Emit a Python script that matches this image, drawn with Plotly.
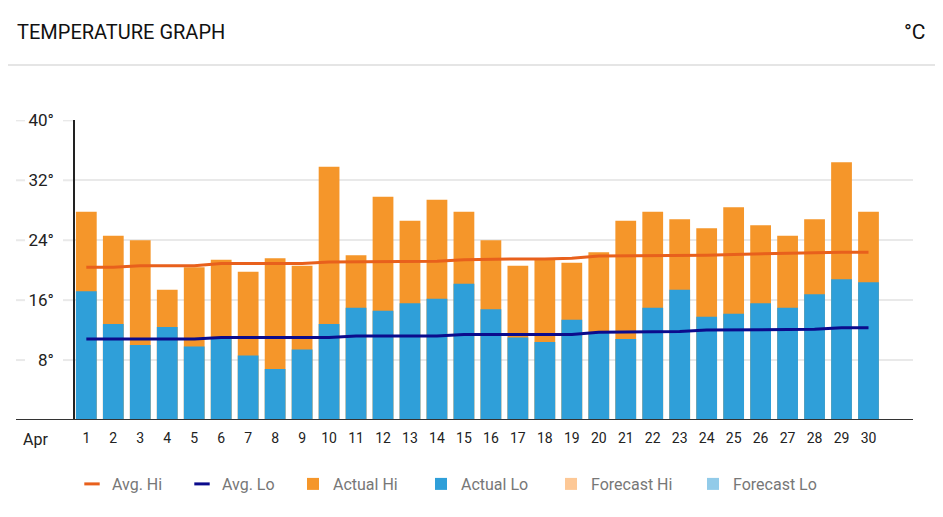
import plotly.graph_objects as go

# ---- data ----
days = list(range(1, 31))
day_labels = [str(d) for d in days]
month_label = "Apr"

actual_hi = [27.8, 24.6, 24.0, 17.4, 20.4, 21.4, 19.8, 21.6, 20.6, 33.8,
             22.0, 29.8, 26.6, 29.4, 27.8, 24.0, 20.6, 21.4, 21.0, 22.4,
             26.6, 27.8, 26.8, 25.6, 28.4, 26.0, 24.6, 26.8, 34.4, 27.8]
actual_lo = [17.2, 12.8, 10.0, 12.4, 9.8, 10.9, 8.6, 6.8, 9.4, 12.8,
             15.0, 14.6, 15.6, 16.2, 18.2, 14.8, 11.0, 10.4, 13.4, 11.7,
             10.8, 15.0, 17.4, 13.8, 14.2, 15.6, 15.0, 16.8, 18.8, 18.4]
avg_hi = [20.4, 20.4, 20.6, 20.6, 20.6, 20.9, 20.9, 20.9, 20.9, 21.1,
          21.1, 21.1, 21.2, 21.2, 21.4, 21.5, 21.5, 21.5, 21.6, 21.9,
          21.9, 21.9, 21.9, 22.0, 22.1, 22.2, 22.2, 22.3, 22.4, 22.4]
avg_lo = [10.8, 10.8, 10.8, 10.8, 10.8, 11.0, 11.0, 11.0, 11.0, 11.0,
          11.2, 11.2, 11.2, 11.2, 11.4, 11.4, 11.4, 11.4, 11.4, 11.7,
          11.7, 11.8, 11.8, 12.0, 12.0, 12.0, 12.1, 12.1, 12.3, 12.3]
forecast_hi = [None] * 30
forecast_lo = [None] * 30
y_ticks = [8, 16, 24, 32, 40]
y_tick_text = [f"{t}°" for t in y_ticks]

# ---- style ----
OFF = 8                      # page body margin of the html page
W, H = 943 - OFF, 517 - OFF
ML, MR, MT, MB = 67, 30, 112, 97
PW = W - ML - MR
PH = H - MT - MB
FONT = "Roboto, Inter, sans-serif"
C_HI = "#f5962a"
C_LO = "#2f9fd9"
C_AVG_HI = "#e8601c"
C_AVG_LO = "#0b0b8c"
C_FC_HI = "#fdc896"
C_FC_LO = "#92cbe9"
GRID = "#e9e9e9"


def px_x(px):
    """page x pixel -> paper x"""
    return (px - OFF - ML) / PW


def px_y(py):
    """page y pixel -> paper y"""
    return (H - MB - (py - OFF)) / PH


fig = go.Figure()

# bars (overlay: low bar drawn over the high bar)
fig.add_trace(go.Bar(x=days, y=actual_hi, name="Actual Hi", marker_color=C_HI,
                     marker_line_width=0, legend="legend3", hoverinfo="skip"))
fig.add_trace(go.Bar(x=days, y=actual_lo, name="Actual Lo", marker_color=C_LO,
                     marker_line_width=0, legend="legend4", hoverinfo="skip"))
fig.add_trace(go.Bar(x=days, y=forecast_hi, name="Forecast Hi", marker_color=C_FC_HI,
                     marker_line_width=0, legend="legend5"))
fig.add_trace(go.Bar(x=days, y=forecast_lo, name="Forecast Lo", marker_color=C_FC_LO,
                     marker_line_width=0, legend="legend6"))

# average lines
fig.add_trace(go.Scatter(x=days, y=avg_hi, mode="lines", name="Avg. Hi",
                         line=dict(color=C_AVG_HI, width=3), showlegend=False,
                         legendgroup="ahi"))
fig.add_trace(go.Scatter(x=days, y=avg_lo, mode="lines", name="Avg. Lo",
                         line=dict(color=C_AVG_LO, width=3), showlegend=False,
                         legendgroup="alo"))
# short-dash legend entries for the lines
fig.add_trace(go.Scatter(x=[None], y=[None], mode="markers", name="Avg. Hi",
                         legendgroup="ahi", legend="legend",
                         marker=dict(symbol="line-ew", size=11,
                                     line=dict(color=C_AVG_HI, width=3))))
fig.add_trace(go.Scatter(x=[None], y=[None], mode="markers", name="Avg. Lo",
                         legendgroup="alo", legend="legend2",
                         marker=dict(symbol="line-ew", size=11,
                                     line=dict(color=C_AVG_LO, width=3))))

shapes = []
# header separator
shapes.append(dict(type="line", xref="paper", yref="paper",
                   x0=px_x(0), x1=px_x(943), y0=px_y(65), y1=px_y(65),
                   line=dict(color="#dcdcdc", width=1.5)))
# gridline stubs to the left of the axis
for t in y_ticks:
    for a, b in ((16, 25), (63, 75)):
        shapes.append(dict(type="line", xref="paper", yref="y",
                           x0=px_x(a), x1=px_x(b), y0=t, y1=t,
                           line=dict(color=GRID, width=2), layer="below"))
# baseline
shapes.append(dict(type="line", xref="paper", yref="y",
                   x0=px_x(16), x1=1, y0=0, y1=0,
                   line=dict(color="#333333", width=2)))

annotations = [
    dict(text="°C", xref="paper", yref="paper", x=px_x(928), y=px_y(32),
         xanchor="right", yanchor="middle", showarrow=False,
         font=dict(family=FONT, size=21, color="#111111")),
    dict(text=month_label, xref="paper", yref="paper", x=px_x(35), y=px_y(439),
         xanchor="center", yanchor="middle", showarrow=False,
         font=dict(family=FONT, size=16, color="#222222")),
]

# one small legend per entry so each sits where the reference puts it
text_starts = [112, 222, 333, 461, 591, 733]
legend_names = ["legend", "legend2", "legend3", "legend4", "legend5", "legend6"]
legends = {}
for name, ts in zip(legend_names, text_starts):
    legends[name] = dict(orientation="h", x=px_x(ts - 40), y=px_y(484),
                         xanchor="left", yanchor="middle", bgcolor="rgba(0,0,0,0)",
                         font=dict(family=FONT, size=16, color="#777777"),
                         itemclick=False, itemdoubleclick=False)

fig.update_layout(
    width=W, height=H,
    margin=dict(l=ML, r=MR, t=MT, b=MB, pad=0),
    paper_bgcolor="white", plot_bgcolor="white",
    barmode="overlay", bargap=0.23,
    title=dict(text="TEMPERATURE GRAPH", xref="container", yref="container",
               x=(17 - OFF) / W, y=1 - (32 - OFF) / H, xanchor="left",
               yanchor="middle",
               font=dict(family=FONT, size=20, color="#111111")),
    font=dict(family=FONT, color="#222222"),
    xaxis=dict(range=[0.58, 31.65], tickmode="array", tickvals=days,
               ticktext=day_labels, showgrid=False, zeroline=False,
               showline=False, ticks="", ticklabelstandoff=8,
               tickfont=dict(size=14, color="#222222"), fixedrange=True),
    yaxis=dict(range=[0, 40.05], tickmode="array", tickvals=y_ticks,
               ticktext=y_tick_text, showgrid=True, gridcolor=GRID, gridwidth=2,
               zeroline=False, showline=True, linecolor="#222222", linewidth=1.5,
               ticks="", ticklabelstandoff=16,
               tickfont=dict(size=17, color="#222222"), fixedrange=True),
    shapes=shapes,
    annotations=annotations,
    showlegend=True,
    **legends,
)

fig.write_html("out.html")
